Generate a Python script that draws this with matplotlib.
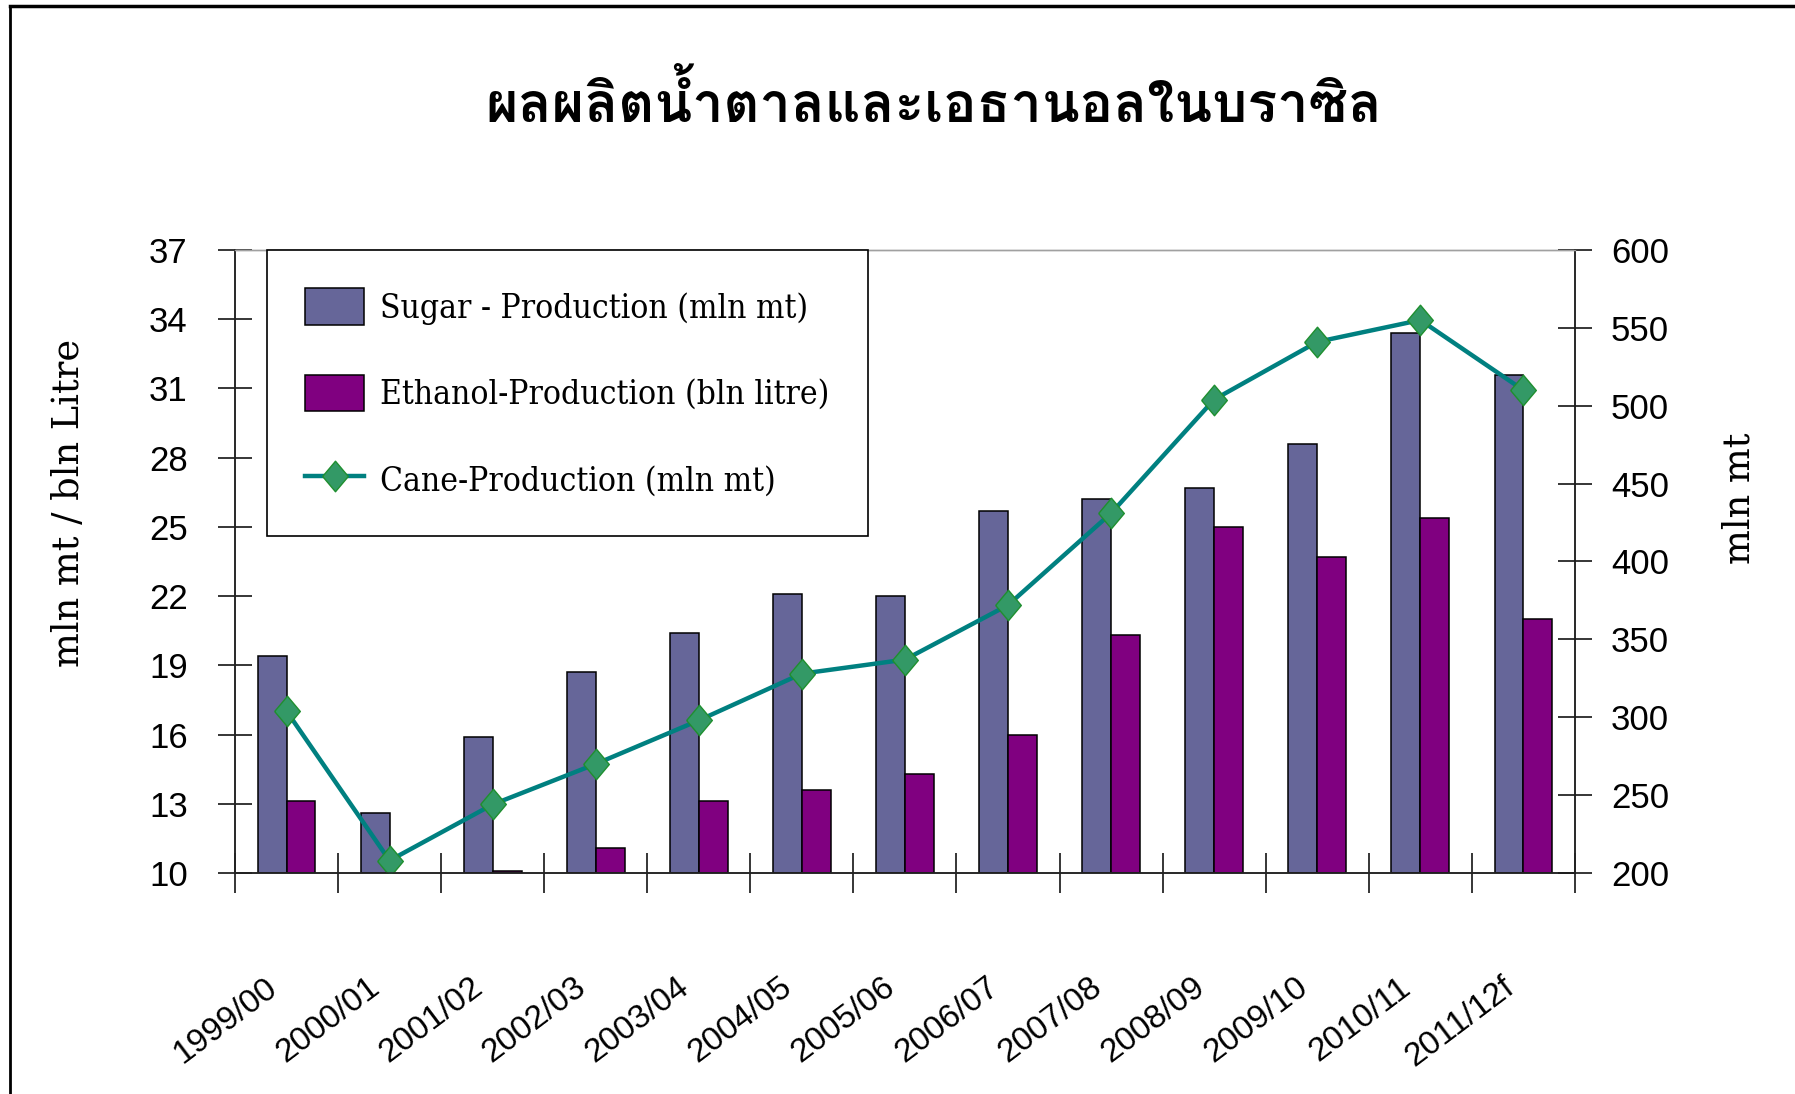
import numpy as np
import matplotlib
matplotlib.use("Agg")
import matplotlib.pyplot as plt
from matplotlib import font_manager
from matplotlib.ft2font import FT2Font
from matplotlib.lines import Line2D
from matplotlib.transforms import ScaledTranslation

seasons = ["1999/00", "2000/01", "2001/02", "2002/03", "2003/04", "2004/05", "2005/06",
           "2006/07", "2007/08", "2008/09", "2009/10", "2010/11", "2011/12f"]
sugar = [19.4, 12.6, 15.9, 18.7, 20.4, 22.1, 22.0, 25.7, 26.2, 26.7, 28.6, 33.4, 31.6]
ethanol = [13.1, np.nan, 10.1, 11.1, 13.1, 13.6, 14.3, 16.0, 20.3, 25.0, 23.7, 25.4, 21.0]
cane = [304, 208, 244, 270, 298, 328, 337, 372, 431, 504, 541, 555, 510]

title = "ผลผลิตน้ำตาลและเอธานอลในบราซิล"
left_label = "mln mt / bln Litre"
right_label = "mln mt"
names = ["Sugar - Production (mln mt)", "Ethanol-Production (bln litre)", "Cane-Production (mln mt)"]


def thai_font():
    # first installed family that has Thai glyphs
    for f in font_manager.fontManager.ttflist:
        try:
            if 0x0E1C in FT2Font(f.fname).get_charmap():
                return f.name
        except Exception:
            pass
    return "DejaVu Sans"


NARROW = ["Liberation Sans Narrow", "Liberation Sans"]
SERIF = "DejaVu Serif"

fig = plt.figure(figsize=(17.95, 10.94), dpi=100)
ax = fig.add_axes([0.1309, 0.2020, 0.7465, 0.5695])
ax2 = ax.twinx()
ax.set_zorder(2)
ax2.set_zorder(3)
ax.patch.set_visible(False)

x = np.arange(len(seasons))
w = 0.28
ax.bar(x - w / 2, np.array(sugar) - 10, w, bottom=10, color="#666699",
       edgecolor="black", linewidth=1.1, label=names[0])
ax.bar(x + w / 2, np.array(ethanol) - 10, w, bottom=10, color="#800080",
       edgecolor="black", linewidth=1.1, label=names[1])

diamond = [(-0.42, 0), (0, 0.5), (0.42, 0), (0, -0.5), (-0.42, 0)]
ax2.plot(x, cane, color="#008080", linewidth=3.2, marker=diamond, markersize=22,
         markerfacecolor="#339966", markeredgecolor="#1f8f2f", markeredgewidth=1,
         label=names[2])

ax.set_xlim(-0.5, len(seasons) - 0.5)
ax.set_ylim(10, 37)
ax.set_yticks(np.arange(10, 38, 3))
ax2.set_ylim(200, 600)
ax2.set_yticks(np.arange(200, 601, 50))

for a in (ax, ax2):
    for s in ("left", "right", "bottom"):
        a.spines[s].set_linewidth(1.1)
        a.spines[s].set_color("#222222")
    a.spines["top"].set_color("#a0a0a0")
    a.spines["top"].set_linewidth(1.0)

ax.tick_params(axis="y", direction="inout", length=24, width=1.1, pad=22, labelsize=25)
ax2.tick_params(axis="y", direction="inout", length=24, width=1.1, pad=14, labelsize=25)
for lab in ax.get_yticklabels() + ax2.get_yticklabels():
    lab.set_family(NARROW)

ax.set_xticks(x)
ax.set_xticks(np.arange(-0.5, len(seasons)), minor=True)
ax.tick_params(axis="x", which="major", length=0, pad=80)
ax.tick_params(axis="x", which="minor", direction="inout", length=29, width=1.1)
ax.set_xticklabels(seasons, rotation=37, ha="right", va="center", rotation_mode="anchor",
                   fontsize=24, family="Liberation Sans")
shift = ScaledTranslation(-13 / 100, 0, fig.dpi_scale_trans)
for lab in ax.get_xticklabels():
    lab.set_transform(lab.get_transform() + shift)

fig.text(0.0385, 0.540, left_label, rotation=90, ha="center", va="center",
         fontsize=26.5, family=SERIF)
fig.text(0.9690, 0.545, right_label, rotation=90, ha="center", va="center",
         fontsize=26.5, family=SERIF)

fig.text(0.52, 0.905, title, ha="center", va="center", fontsize=40,
         fontweight="bold", family=[thai_font(), "DejaVu Sans"])

h1, l1 = ax.get_legend_handles_labels()
h2, l2 = ax2.get_legend_handles_labels()
leg = ax2.legend(h1 + h2, l1 + l2, loc="upper left", bbox_to_anchor=(0.024, 1.0),
                 borderaxespad=0, fancybox=False, framealpha=1, edgecolor="black",
                 handlelength=1.75, handleheight=1.3, handletextpad=0.5,
                 labelspacing=1.5, borderpad=1.15, numpoints=1,
                 prop=font_manager.FontProperties(family=SERIF, stretch="condensed", size=24))
leg.get_frame().set_linewidth(1.2)

# page frame (top and left edges only, like the slide)
fig.add_artist(Line2D([0.0056, 1.0], [0.9945, 0.9945], color="black", linewidth=2.5))
fig.add_artist(Line2D([0.0056, 0.0056], [0.0, 0.9945], color="black", linewidth=2.0))

fig.savefig("out.png", dpi=100)
